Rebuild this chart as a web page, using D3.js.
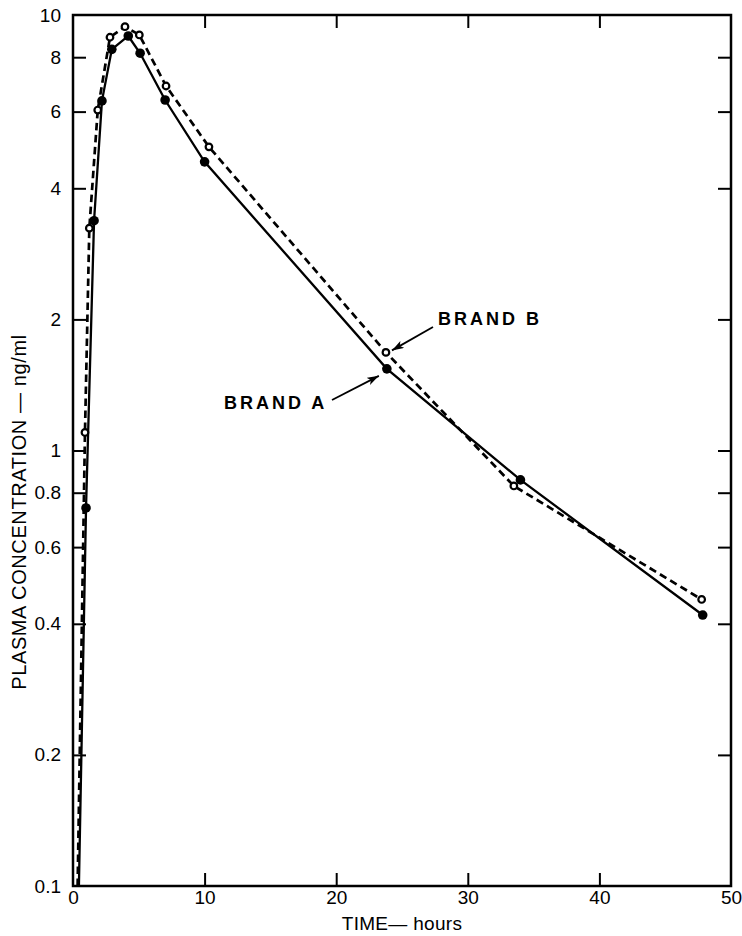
<!DOCTYPE html>
<html><head><meta charset="utf-8">
<script src="https://cdn.jsdelivr.net/npm/d3@7"></script>
<style>body{margin:0;background:#fff}</style>
</head><body><svg id="c" width="742" height="936"></svg>
<script>
// Brand A (filled circles, solid line); first entry is the onset where the curve leaves the axis
const timeA = [0.45, 0.99, 1.6, 2.2, 2.95, 4.2, 5.1, 7.0, 10.0, 23.85, 34.0, 47.85];
const concA = [0.1, 0.738, 3.37, 6.35, 8.34, 8.95, 8.17, 6.38, 4.60, 1.54, 0.856, 0.419];
// Brand B (open circles, dashed line)
const timeB = [0.35, 0.91, 1.24, 1.88, 2.81, 3.95, 5.04, 7.07, 10.33, 23.78, 33.5, 47.77];
const concB = [0.1, 1.10, 3.24, 6.05, 8.89, 9.40, 9.00, 6.87, 4.98, 1.68, 0.829, 0.455];

const xTicks = [0, 10, 20, 30, 40, 50];
const xInnerTicks = [10, 20, 30, 40];
const yTicks = [0.1, 0.2, 0.4, 0.6, 0.8, 1, 2, 4, 6, 8, 10];
const yTickLabels = ["0.1", "0.2", "0.4", "0.6", "0.8", "1", "2", "4", "6", "8", "10"];
const yInnerTicks = [0.2, 0.4, 0.6, 0.8, 1, 2, 4, 6, 8];

const xTitle = "TIME\u2014 hours";
const yTitle = "PLASMA CONCENTRATION \u2014 ng/ml";
const labelA = "BRAND A";
const labelB = "BRAND B";

const L = 73, R = 731, T = 15, B = 886;
const svg = d3.select("#c");
const x = d3.scaleLinear().domain([0, 50]).range([L, R]);
const y = d3.scaleLog().domain([0.1, 10]).range([B, T]);
const font = "'Liberation Sans', Arial, sans-serif";

svg.append("defs").append("clipPath").attr("id", "clip")
  .append("rect").attr("x", L).attr("y", T).attr("width", R - L).attr("height", B - T);

// frame
svg.append("rect").attr("x", L).attr("y", T).attr("width", R - L).attr("height", B - T)
  .attr("fill", "none").attr("stroke", "#000").attr("stroke-width", 2.5);

const tl = 13;
svg.append("g").attr("transform", `translate(0,${B})`)
  .call(d3.axisTop(x).tickValues(xInnerTicks).tickSize(tl).tickFormat(""))
  .call(g => g.select(".domain").remove());
svg.append("g").attr("transform", `translate(0,${T})`)
  .call(d3.axisBottom(x).tickValues(xInnerTicks).tickSize(tl).tickFormat(""))
  .call(g => g.select(".domain").remove());
svg.append("g").attr("transform", `translate(${L},0)`)
  .call(d3.axisRight(y).tickValues(yInnerTicks).tickSize(tl).tickFormat(""))
  .call(g => g.select(".domain").remove());
svg.append("g").attr("transform", `translate(${R},0)`)
  .call(d3.axisLeft(y).tickValues(yInnerTicks).tickSize(tl).tickFormat(""))
  .call(g => g.select(".domain").remove());
svg.selectAll(".tick line").attr("stroke", "#000").attr("stroke-width", 2);

// tick labels
svg.append("g").attr("transform", `translate(0,${B})`)
  .call(d3.axisBottom(x).tickValues(xTicks).tickSize(0).tickPadding(5).tickFormat(d3.format("d")))
  .call(g => g.select(".domain").remove())
  .selectAll("text").attr("font-family", font).attr("font-size", 19).attr("fill", "#000");
svg.append("g").attr("transform", `translate(${L},0)`)
  .call(d3.axisLeft(y).tickValues(yTicks).tickSize(0).tickPadding(12)
    .tickFormat(d => yTickLabels[yTicks.indexOf(d)]))
  .call(g => g.select(".domain").remove())
  .selectAll("text").attr("font-family", font).attr("font-size", 19).attr("fill", "#000");

// titles
svg.append("text").attr("x", (L + R) / 2).attr("y", 930).attr("text-anchor", "middle")
  .attr("font-family", font).attr("font-size", 19).attr("letter-spacing", 0.3).text(xTitle);
svg.append("text").attr("transform", `translate(26,512) rotate(-90)`).attr("text-anchor", "middle")
  .attr("font-family", font).attr("font-size", 20).attr("letter-spacing", 0.6).text(yTitle);

const dataA = timeA.map((t, i) => ({t, v: concA[i], i}));
const dataB = timeB.map((t, i) => ({t, v: concB[i], i}));
const line = d3.line().x(d => x(d.t)).y(d => y(d.v));

const plot = svg.append("g").attr("clip-path", "url(#clip)");
plot.append("path").datum(dataA).attr("d", line).attr("fill", "none")
  .attr("stroke", "#000").attr("stroke-width", 2.3);
plot.append("path").datum(dataB).attr("d", line).attr("fill", "none")
  .attr("stroke", "#000").attr("stroke-width", 2.7).attr("stroke-dasharray", "7.5,4.5");

plot.selectAll("circle.a").data(dataA.filter(d => d.i > 0)).join("circle").attr("class", "a")
  .attr("cx", d => x(d.t)).attr("cy", d => y(d.v)).attr("r", 4.8).attr("fill", "#000");
plot.selectAll("circle.b").data(dataB.filter(d => d.i > 0)).join("circle").attr("class", "b")
  .attr("cx", d => x(d.t)).attr("cy", d => y(d.v)).attr("r", 3.3)
  .attr("fill", "#fff").attr("stroke", "#000").attr("stroke-width", 2.2);

// annotations
const defs = svg.select("defs");
defs.append("marker").attr("id", "arr").attr("viewBox", "0 0 12 8").attr("refX", 12).attr("refY", 4)
  .attr("markerWidth", 12).attr("markerHeight", 8).attr("markerUnits", "userSpaceOnUse").attr("orient", "auto")
  .append("path").attr("d", "M0,0 L12,4 L0,8 L3,4 Z").attr("fill", "#000");

const pB = dataB[9], pA = dataA[9];
svg.append("line").attr("x1", 433).attr("y1", 327).attr("x2", x(pB.t) + 6).attr("y2", y(pB.v) - 2)
  .attr("stroke", "#000").attr("stroke-width", 1.8).attr("marker-end", "url(#arr)");
svg.append("line").attr("x1", 332).attr("y1", 400).attr("x2", x(pA.t) - 8).attr("y2", y(pA.v) + 7)
  .attr("stroke", "#000").attr("stroke-width", 1.8).attr("marker-end", "url(#arr)");
svg.append("text").attr("x", 438).attr("y", 325).attr("font-family", font).attr("font-size", 18)
  .attr("font-weight", "bold").attr("letter-spacing", 3).text(labelB);
svg.append("text").attr("x", 224).attr("y", 409).attr("font-family", font).attr("font-size", 18)
  .attr("font-weight", "bold").attr("letter-spacing", 3).text(labelA);
</script></body></html>
